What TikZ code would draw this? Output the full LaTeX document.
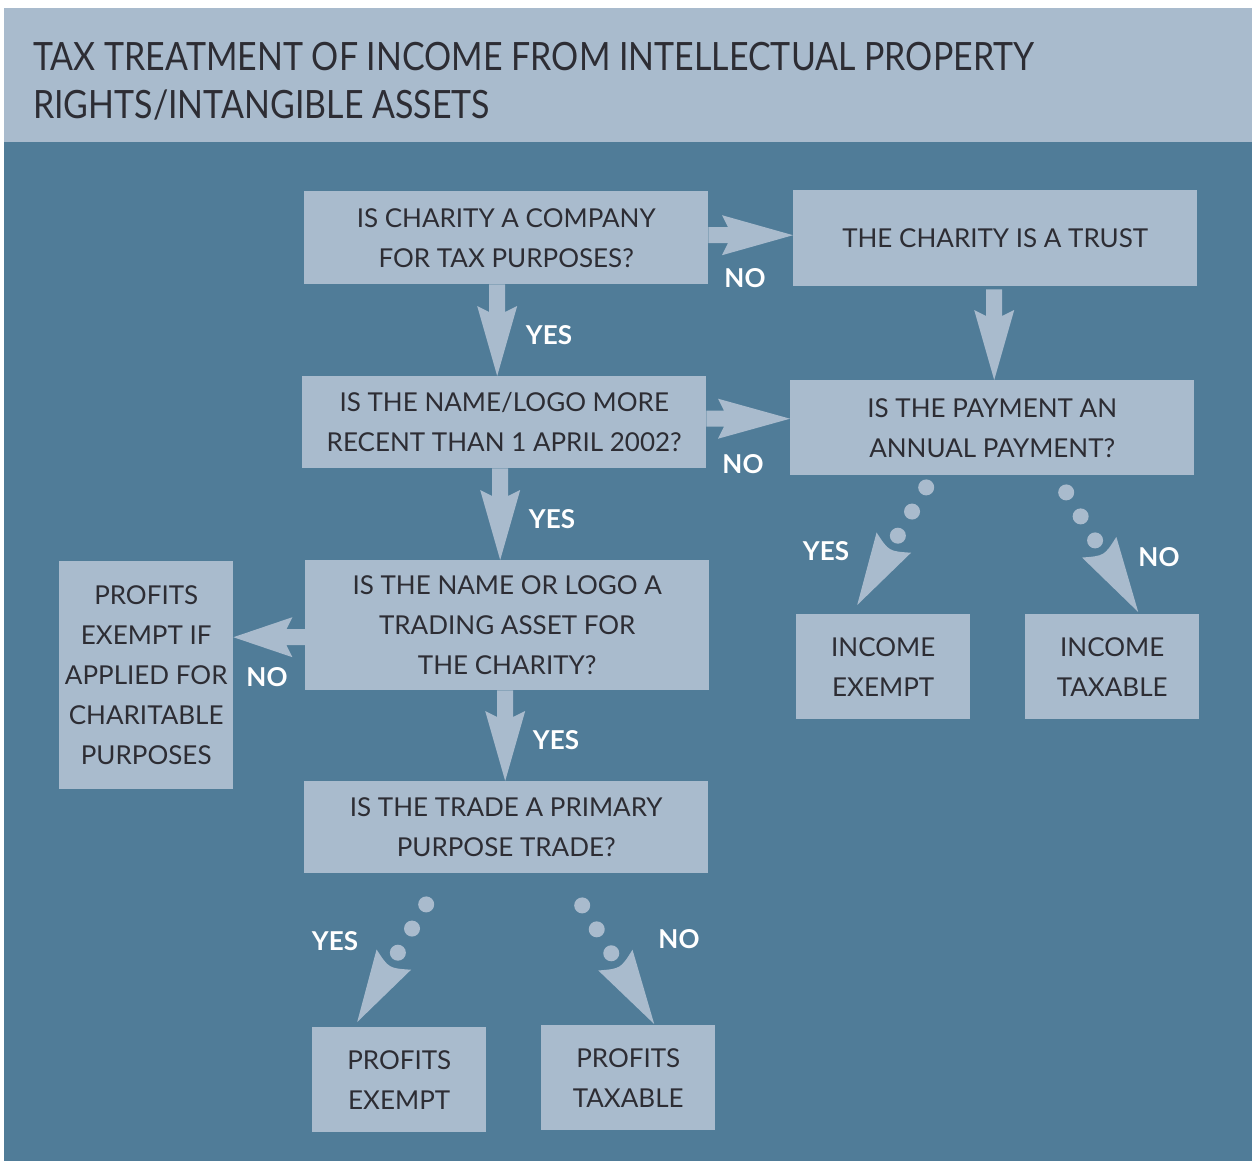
\documentclass[tikz,border=0pt]{standalone}
\usepackage{graphicx}
\usepackage{fontspec}
\setmainfont{Lato}
\usetikzlibrary{calc}
\definecolor{bgdark}{RGB}{80,124,152}
\definecolor{boxlight}{RGB}{169,187,205}
\definecolor{txtdark}{RGB}{45,45,52}

\newcommand\vfat[2]{\fill[arr] let \p1=(#1), \p2=(#2) in
 (\x2-8pt,\y1) -- (\x2-8pt,\y2+64pt) -- (\x2-20pt,\y2+70pt) -- (\x2,\y2) -- (\x2+20pt,\y2+70pt) -- (\x2+8pt,\y2+64pt) -- (\x2+8pt,\y1) -- cycle;}
\newcommand\rfat[3]{\fill[arr] let \p1=(#1), \p2=(#2) in
 (\x1,\y2+8pt) -- (\x2-#3pt+6pt,\y2+8pt) -- (\x2-#3pt,\y2+20pt) -- (\x2,\y2) -- (\x2-#3pt,\y2-20pt) -- (\x2-#3pt+6pt,\y2-8pt) -- (\x1,\y2-8pt) -- cycle;}
\newcommand\lfat[3]{\fill[arr] let \p1=(#1), \p2=(#2) in
 (\x1,\y2+8pt) -- (\x2+#3pt-6pt,\y2+8pt) -- (\x2+#3pt,\y2+20pt) -- (\x2,\y2) -- (\x2+#3pt,\y2-20pt) -- (\x2+#3pt-6pt,\y2-8pt) -- (\x1,\y2-8pt) -- cycle;}
\newcommand\dotarrow[2]{%
 \fill[arr] (#1) circle[radius=8pt] ($(#1)!28pt!(#2)$) circle[radius=8pt] ($(#1)!56pt!(#2)$) circle[radius=8pt];
 \coordinate (hb) at ($(#1)!64pt!(#2)$);
 \coordinate (hn) at ($(#1)!74pt!(#2)$);
 \coordinate (hc1) at ($(hb)!20pt!90:(#2)$);
 \coordinate (hc2) at ($(hb)!20pt!-90:(#2)$);
 \fill[arr] (hc1) -- (#2) -- (hc2) .. controls (hn) .. (hc1) -- cycle;}

\begin{document}
\begin{tikzpicture}[x=1pt,y=-1pt,
  arr/.style={fill=boxlight, draw=none},
  box/.style={fill=boxlight, draw=none, text=txtdark, font=\fontsize{26}{40}\selectfont,
    align=center, inner sep=0pt, anchor=north west},
  lab/.style={text=white, font=\bfseries\fontsize{26}{30}\selectfont, inner sep=0pt},
  ttl/.style={text=txtdark, font=\fontsize{39}{48}\selectfont, inner sep=0pt, anchor=north west}]
\useasboundingbox (0,0) rectangle (1255,1162);
\fill[white] (0,0) rectangle (1255,1162);
\fill[boxlight] (4,8) rectangle (1252,142);
\fill[bgdark] (4,142) rectangle (1252,1161);

\node[ttl] (title) at (33,36.4) {\scalebox{0.87}[1]{\begin{tabular}{@{}l@{}}TAX TREATMENT OF INCOME FROM INTELLECTUAL PROPERTY\\RIGHTS/INTANGIBLE ASSETS\end{tabular}}};

\node[box, minimum width=404, minimum height=93] (b1) at (304,191) {IS CHARITY A COMPANY\\FOR TAX PURPOSES?};
\node[box, minimum width=404, minimum height=96] (b2) at (793,190) {THE CHARITY IS A TRUST};
\node[box, minimum width=404, minimum height=92] (b3) at (302,376) {IS THE NAME/LOGO MORE\\RECENT THAN 1 APRIL 2002?};
\node[box, minimum width=404, minimum height=95] (b4) at (790,380) {IS THE PAYMENT AN\\ANNUAL PAYMENT?};
\node[box, minimum width=404, minimum height=130] (b5) at (305,560) {IS THE NAME OR LOGO A\\TRADING ASSET FOR\\THE CHARITY?};
\node[box, minimum width=174, minimum height=228] (b6) at (59,561) {PROFITS\\EXEMPT IF\\APPLIED FOR\\CHARITABLE\\PURPOSES};
\node[box, minimum width=404, minimum height=92] (b7) at (304,781) {IS THE TRADE A PRIMARY\\PURPOSE TRADE?};
\node[box, minimum width=174, minimum height=105] (b8) at (796,614) {INCOME\\EXEMPT};
\node[box, minimum width=174, minimum height=105] (b9) at (1025,614) {INCOME\\TAXABLE};
\node[box, minimum width=174, minimum height=105] (b10) at (312,1027) {PROFITS\\EXEMPT};
\node[box, minimum width=174, minimum height=105] (b11) at (541,1025) {PROFITS\\TAXABLE};

% solid arrows
\vfat{b1.south}{$(b3.north)+(-7,0)$}
\vfat{b3.south}{$(b5.north)+(-7,0)$}
\vfat{b5.south}{$(b7.north)+(-1,0)$}
\vfat{$(b2.south)+(0,3)$}{$(b4.north)+(2,0)$}
\rfat{b1.east}{$(b2.west)+(0,-3)$}{71}
\rfat{b3.east}{$(b4.west)+(0,-9)$}{72}
\lfat{b5.west}{$(b6.east)+(0,-38)$}{59}

% dotted arrows
\coordinate (p1) at ($(b4.south)+(-66,12)$);
\coordinate (t1) at ($(b8.north)+(-26,-9)$);
\coordinate (p2) at ($(b4.south)+(74,17)$);
\coordinate (t2) at ($(b9.north)+(26,-2)$);
\coordinate (p3) at ($(b7.south)+(-80,31)$);
\coordinate (t3) at ($(b10.north)+(-42,-5)$);
\coordinate (p4) at ($(b7.south)+(76,32)$);
\coordinate (t4) at ($(b11.north)+(26,-1)$);
\dotarrow{p1}{t1}
\dotarrow{p2}{t2}
\dotarrow{p3}{t3}
\dotarrow{p4}{t4}

% labels
\node[lab] (l1) at (745,278) {NO};
\node[lab] (l2) at (549,335) {YES};
\node[lab] (l3) at (743,464) {NO};
\node[lab] (l4) at (552,519) {YES};
\node[lab] (l5) at (826,551) {YES};
\node[lab] (l6) at (1159,557) {NO};
\node[lab] (l7) at (267,677) {NO};
\node[lab] (l8) at (556,740) {YES};
\node[lab] (l9) at (335,941) {YES};
\node[lab] (l10) at (679,939) {NO};
\end{tikzpicture}
\end{document}
